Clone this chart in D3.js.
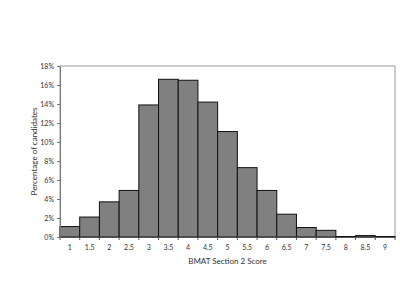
<!DOCTYPE html>
<html><head><meta charset="utf-8">
<script src="https://cdn.jsdelivr.net/npm/d3@7"></script>
<style>body{margin:0;background:#fff}svg{display:block}</style>
</head><body>
<svg id="c" width="400" height="300"></svg>
<script>
const scores = ["1","1.5","2","2.5","3","3.5","4","4.5","5","5.5","6","6.5","7","7.5","8","8.5","9"];
const percents = [1.1,2.1,3.7,4.9,13.9,16.6,16.5,14.2,11.1,7.3,4.9,2.4,1.0,0.7,0.05,0.15,0.05];
const yTicks = [0,2,4,6,8,10,12,14,16,18];

const svg = d3.select("#c");
const m = {l:60, r:5, t:66, b:63};
const W = 400, H = 300;
const x = d3.scaleBand().domain(scores).range([m.l, W-m.r]).padding(0);
const y = d3.scaleLinear().domain([0,18]).range([H-m.b, m.t]);
const font = "Lato, 'Open Sans', sans-serif";

// plot border
svg.append("rect").attr("x", m.l).attr("y", m.t).attr("width", W-m.r-m.l).attr("height", y(0)-m.t)
  .attr("fill","none").attr("stroke","#9a9a9a").attr("stroke-width",1);

svg.selectAll("rect.bar").data(scores).enter().append("rect").attr("class","bar")
  .attr("x", d=>x(d)).attr("width", x.bandwidth())
  .attr("y", (d,i)=>y(percents[i])).attr("height",(d,i)=>y(0)-y(percents[i]))
  .attr("fill","#808080").attr("stroke","#111").attr("stroke-width",1);

// y axis
const ya = svg.append("g").attr("transform",`translate(${m.l},0)`)
  .call(d3.axisLeft(y).tickValues(yTicks).tickFormat(d=>d+"%").tickSize(3));
ya.select(".domain").attr("stroke","#777");
ya.selectAll(".tick line").attr("stroke","#777");
ya.selectAll("text").attr("font-family",font).attr("font-size",7).attr("fill","#333");

// x axis
const xa = svg.append("g").attr("transform",`translate(0,${y(0)})`)
  .call(d3.axisBottom(x).tickSize(0).tickPadding(8));
xa.select(".domain").attr("stroke","#555");
xa.selectAll("text").attr("font-family",font).attr("font-size",7).attr("fill","#333");
svg.selectAll("line.xt").data(scores.concat(["end"])).enter().append("line").attr("class","xt")
  .attr("x1",(d,i)=>m.l+i*x.bandwidth()).attr("x2",(d,i)=>m.l+i*x.bandwidth())
  .attr("y1",y(0)).attr("y2",y(0)+3).attr("stroke","#555");

svg.append("text").attr("x", (m.l+W-m.r)/2).attr("y", 264).attr("text-anchor","middle")
  .attr("font-family",font).attr("font-size",8).attr("fill","#333").text("BMAT Section 2 Score");
svg.append("text").attr("transform",`translate(37,${(m.t+y(0))/2}) rotate(-90)`).attr("text-anchor","middle")
  .attr("font-family",font).attr("font-size",8).attr("fill","#333").text("Percentage of candidates");
</script>
</body></html>
